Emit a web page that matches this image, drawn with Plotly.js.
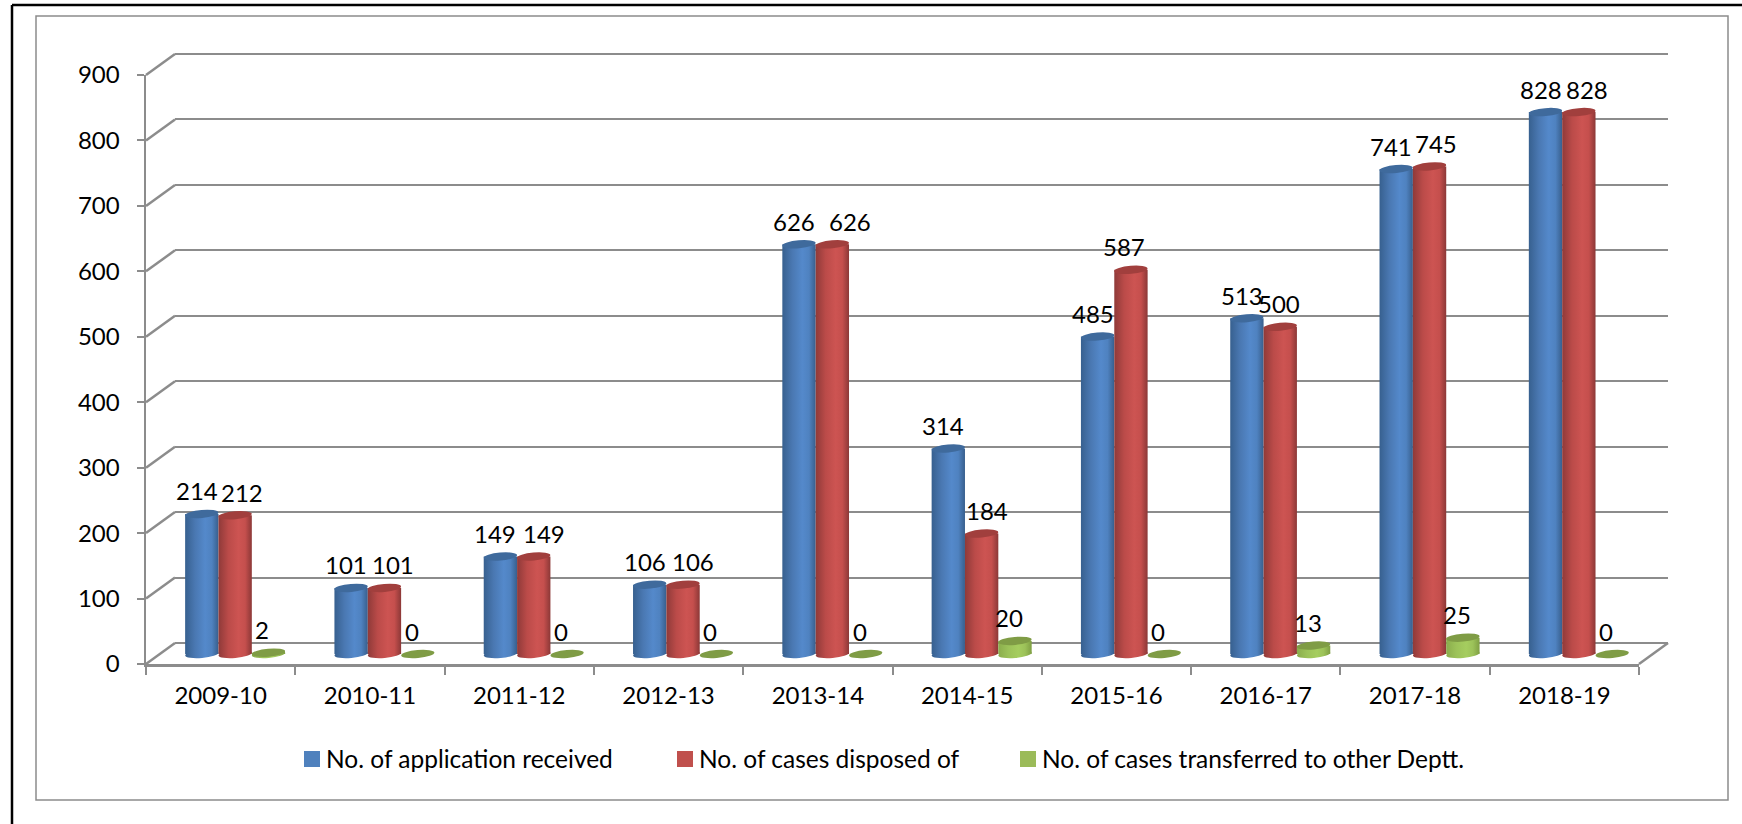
<!DOCTYPE html>
<html>
<head>
<meta charset="utf-8">
<script src="https://cdn.plot.ly/plotly-3.0.1.min.js"></script>
<style>html,body{margin:0;padding:0;background:#fff}#chart{width:1742px;height:824px}</style>
</head>
<body>
<div id="chart"></div>
<script>
const categories = ["2009-10","2010-11","2011-12","2012-13","2013-14","2014-15","2015-16","2016-17","2017-18","2018-19"];
const received = [214,101,149,106,626,314,485,513,741,828];
const disposed = [212,101,149,106,626,184,587,500,745,828];
const transferred = [2,0,0,0,0,20,0,13,25,0];
const seriesNames = ["No. of application received","No. of cases disposed of","No. of cases transferred to other Deptt."];
const yTicks = [0,100,200,300,400,500,600,700,800,900];
// Per-label horizontal nudges of the hand-placed red labels
const redLabelNudge = [7,9,10,10,18,5,-7,-1,6,8];

const W = 1742, H = 824, FONT = 'Lato, "Noto Sans", sans-serif';
const GRID = '#8c8c8c';
const X0 = 146, X1 = 1639, Y0 = 664, Y900 = 75;
const fx = p => p / W, fy = p => 1 - p / H;
const unitsPerPx = 900 / (Y0 - Y900);
const PAD = 20; // value units of room under zero on the bar axes so the round bases are not clipped
const GPAD = 5; // room so the end gridlines of the back wall are drawn
const dom = (dx, dy, padLow, padHigh) => ({
  x: [fx(X0 + dx), fx(X1 + dx)],
  y: [fy(Y0 + dy + padLow / unitsPerPx), fy(Y900 + dy - padHigh / unitsPerPx)]
});
const BACK = dom(29, -21, GPAD, GPAD), FRONT = dom(0, 0, 0, 0), BARS = dom(14.5, -10, PAD, 0);
const BARGAP = 0.33, BW = (1 - BARGAP) / 3;
const CAP = 4 * unitsPerPx;

const palette = [
  {cap:'#3f6a9c', stops:['#37608f','#4a78b2','#5489cb','#4f82c0','#385f8d'], solid:'#4f81bd'},
  {cap:'#a13f3d', stops:['#8f3a39','#bb4b49','#cd5452','#c54f4d','#8c3837'], solid:'#c0504d'},
  {cap:'#7f9c45', stops:['#8aad4c','#9cc259','#a5cd5f','#9cc259','#7f9f43'], solid:'#9bbb59'}
];
const series = [received, disposed, transferred];

const traces = series.map((vals, s) => ({
  type:'bar', name:seriesNames[s], x:categories, y:vals, xaxis:'x3', yaxis:'y3',
  marker:{color:palette[s].solid, line:{width:0}},
  legend: s === 0 ? 'legend' : 'legend' + (s + 1),
  hoverinfo:'x+y+name'
}));
// Empty traces keep the back wall and the front axes alive as subplots
traces.unshift({type:'scatter', x:[], y:[], xaxis:'x', yaxis:'y', showlegend:false});
traces.splice(1, 0, {type:'scatter', x:[], y:[], xaxis:'x2', yaxis:'y2', showlegend:false});

const shapes = [];
const baseIdx = [];
const capIdx = [];
series.forEach((vals, s) => vals.forEach((v, i) => {
  const c = i + (s - 1) * BW;
  if (v > 0) {
    baseIdx.push([shapes.length, s]);
    shapes.push({type:'circle', layer:'below', xref:'x3', yref:'y3', x0:c - BW/2, x1:c + BW/2, y0:-CAP, y1:CAP,
      fillcolor:palette[s].solid, line:{width:0}});
  }
  capIdx.push(shapes.length);
  shapes.push({type:'circle', layer:'above', xref:'x3', yref:'y3', x0:c - BW/2, x1:c + BW/2, y0:v - CAP, y1:v + CAP,
    fillcolor:palette[s].cap, line:{width:0}});
}));

// Depth connectors between front axes and back wall
const line = (x0,y0,x1,y1,color,width) => ({type:'line', layer:'below', xref:'paper', yref:'paper',
  x0:fx(x0), y0:fy(y0), x1:fx(x1), y1:fy(y1), line:{color, width}});
yTicks.forEach(t => {
  const py = Y0 - (Y0 - Y900) * t / 900;
  shapes.push(line(X0, py, X0 + 29, py - 21, GRID, 2.5));
});
shapes.push(line(X1, Y0, X1 + 29, Y0 - 21, GRID, 2.5));
// Frames
shapes.push(line(12, 5, 12, H, '#000', 2.5));
shapes.push(line(12, 5, W, 5, '#000', 2.5));
shapes.push({type:'rect', layer:'below', xref:'paper', yref:'paper', x0:fx(36), x1:fx(1728), y0:fy(800), y1:fy(16),
  line:{color:GRID, width:1.5}, fillcolor:'rgba(0,0,0,0)'});

const annotations = [];
const LIFT = 23;
series.forEach((vals, s) => vals.forEach((v, i) => {
  annotations.push({
    xref:'x3', yref:'y3', x:i + (s - 1) * BW, y:v, text:String(v), showarrow:false,
    xanchor:'center', yanchor:'middle', yshift:LIFT,
    xshift: s === 0 ? -5 : s === 1 ? redLabelNudge[i] : -6,
    font:{family:FONT, size:24, color:'#000'}
  });
}));

const catRange = [-0.5, 9.5];
const base = {range:catRange, type:'category', categoryorder:'array', categoryarray:categories, fixedrange:true};
const yBase = {tickvals:yTicks, fixedrange:true, zeroline:false};
const legendBase = {orientation:'h', yanchor:'middle', xanchor:'left', y:fy(759), bgcolor:'rgba(0,0,0,0)',
  font:{family:FONT, size:24.5, color:'#000'}};

const layout = {
  width:W, height:H, margin:{l:0,r:0,t:0,b:0}, paper_bgcolor:'#fff', plot_bgcolor:'rgba(0,0,0,0)',
  showlegend:true,
  barmode:'group', bargap:BARGAP, bargroupgap:0, font:{family:FONT, size:24, color:'#000'},
  // back wall
  xaxis:{...base, domain:BACK.x, anchor:'y', visible:true, showgrid:false, showline:false, showticklabels:false, ticks:''},
  yaxis:{...yBase, range:[-GPAD,900+GPAD], domain:BACK.y, anchor:'x', showgrid:true, gridcolor:GRID, gridwidth:2, showline:false, showticklabels:false, ticks:''},
  // front axes
  xaxis2:{...base, domain:FRONT.x, anchor:'y2', showgrid:false, showline:true, linecolor:GRID, linewidth:2.5,
    ticks:'outside', tickson:'boundaries', ticklen:8, tickcolor:GRID, tickwidth:2, tickfont:{family:FONT,size:24,color:'#000'}, ticklabelstandoff:9},
  yaxis2:{...yBase, range:[0,900], domain:FRONT.y, anchor:'x2', showgrid:false, showline:true, linecolor:GRID, linewidth:2.5,
    ticks:'outside', ticklen:7, tickcolor:GRID, tickwidth:2, tickfont:{family:FONT,size:24,color:'#000'}, ticklabelstandoff:12},
  // bars
  xaxis3:{...base, domain:BARS.x, anchor:'y3', visible:false},
  yaxis3:{...yBase, range:[-PAD,900], domain:BARS.y, anchor:'x3', visible:false},
  legend:{...legendBase, x:fx(286)},
  legend2:{...legendBase, x:fx(659)},
  legend3:{...legendBase, x:fx(1002)},
  shapes, annotations
};

const gd = document.getElementById('chart');
Plotly.newPlot(gd, traces, layout, {displayModeBar:false, staticPlot:true}).then(() => {
  const NS = 'http://www.w3.org/2000/svg';
  const svg = gd.querySelector('svg.main-svg');
  const defs = svg.querySelector('defs') || svg.insertBefore(document.createElementNS(NS,'defs'), svg.firstChild);
  palette.forEach((p, s) => {
    const g = document.createElementNS(NS,'linearGradient');
    g.setAttribute('id','cyl' + s);
    const off = [0, 0.3, 0.6, 0.8, 1];
    p.stops.forEach((c, k) => {
      const st = document.createElementNS(NS,'stop');
      st.setAttribute('offset', off[k]);
      st.setAttribute('stop-color', c);
      g.appendChild(st);
    });
    defs.appendChild(g);
  });
  gd.querySelectorAll('.barlayer .trace').forEach((tr, s) => {
    tr.querySelectorAll('.point path').forEach(p => { p.style.fill = 'url(#cyl' + s + ')'; });
  });
  const tilt = p => {
    p.style.transformBox = 'fill-box';
    p.style.transformOrigin = 'center';
    p.style.transform = 'rotate(-5deg)';
  };
  baseIdx.forEach(([idx, s]) => {
    gd.querySelectorAll('.shapelayer path[data-index="' + idx + '"]').forEach(p => { p.style.fill = 'url(#cyl' + s + ')'; tilt(p); });
  });
  capIdx.forEach(idx => {
    gd.querySelectorAll('.shapelayer path[data-index="' + idx + '"]').forEach(tilt);
  });
  // legend swatches: a little larger and closer to their text
  gd.querySelectorAll('.legendpoints path').forEach(p => {
    p.setAttribute('d','M14,8H-2V-8H14Z');
  });
});
</script>
</body>
</html>
